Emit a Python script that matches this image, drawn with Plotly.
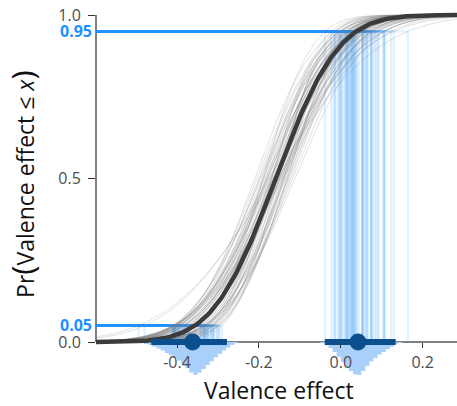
import math
import plotly.graph_objects as go

# ---------------- data ----------------
# location / scale of each posterior draw of the CDF (thin grey curves)
draw_mu = [-0.158, -0.172, -0.130, -0.188, -0.152, -0.140, -0.165, -0.200, -0.145, -0.160,
           -0.180, -0.122, -0.168, -0.150, -0.192, -0.138, -0.175, -0.155, -0.112, -0.162,
           -0.182, -0.148, -0.210, -0.132, -0.170, -0.142, -0.190, -0.160, -0.128, -0.178,
           -0.152, -0.165, -0.135, -0.195, -0.145, -0.172, -0.158, -0.118, -0.185, -0.150,
           -0.168, -0.140, -0.205, -0.155, -0.175, -0.125, -0.162, -0.148, -0.182, -0.160,
           -0.132, -0.188, -0.152, -0.170, -0.138, -0.180, -0.155, -0.165, -0.142, -0.198]
draw_sd = [0.106, 0.143, 0.125, 0.112, 0.156, 0.095, 0.132, 0.121, 0.101, 0.150,
           0.128, 0.119, 0.088, 0.139, 0.123, 0.108, 0.185, 0.114, 0.134, 0.099,
           0.130, 0.145, 0.117, 0.103, 0.121, 0.161, 0.092, 0.136, 0.110, 0.125,
           0.084, 0.141, 0.119, 0.132, 0.152, 0.112, 0.097, 0.128, 0.134, 0.106,
           0.147, 0.117, 0.123, 0.090, 0.139, 0.121, 0.108, 0.154, 0.114, 0.130,
           0.101, 0.125, 0.143, 0.095, 0.119, 0.136, 0.110, 0.200, 0.103, 0.128]
# mean CDF (thick curve)
mean_mu = -0.159
mean_sd = 0.120

# probabilities that are highlighted
probs = [0.05, 0.95]
prob_labels = ["<b>0.05</b>", "<b>0.95</b>"]

# histogram of the 5% quantile (bin centres, relative heights)
q05_bins = [-0.485, -0.475, -0.465, -0.455, -0.445, -0.435, -0.425, -0.415, -0.405, -0.395,
            -0.385, -0.375, -0.365, -0.355, -0.345, -0.335, -0.325, -0.315, -0.305, -0.295,
            -0.285, -0.275, -0.265, -0.255]
q05_dens = [0.03, 0.06, 0.09, 0.14, 0.20, 0.26, 0.33, 0.40, 0.48, 0.56,
            0.66, 0.78, 0.92, 1.00, 0.93, 0.82, 0.70, 0.58, 0.46, 0.36,
            0.26, 0.17, 0.09, 0.04]
# histogram of the 95% quantile
q95_bins = [-0.045, -0.035, -0.025, -0.015, -0.005, 0.005, 0.015, 0.025, 0.035, 0.045,
            0.055, 0.065, 0.075, 0.085, 0.095, 0.105, 0.115, 0.125, 0.135, 0.145]
q95_dens = [0.04, 0.10, 0.18, 0.30, 0.45, 0.60, 0.75, 0.88, 0.98, 1.00,
            0.88, 0.72, 0.58, 0.48, 0.38, 0.30, 0.22, 0.14, 0.07, 0.03]
bin_width = 0.01

# point (median) and 95% interval of each quantile
q_points = [-0.362, 0.042]
q_lows = [-0.463, -0.039]
q_highs = [-0.278, 0.134]

x_ticks = [-0.4, -0.2, 0.0, 0.2]
x_tick_labels = ["-0.4", "-0.2", "0.0", "0.2"]
y_ticks = [0.0, 0.5, 1.0]
y_tick_labels = ["0.0", "0.5", "1.0"]

# ---------------- styling / geometry ----------------
X0, X1 = -0.5978, 0.2838
Y0, Y1 = -0.1162, 1.0153
XPOS = (0 - Y0) / (Y1 - Y0)
DENS_SCALE = 0.101
BLUE = "#1E90FF"
BLUE_T = "rgba(30,144,255,0.13)"
LIGHT = "#a8d0fa"
DARK = "#0c4f8e"
FONT = "Open Sans"
TICK_SIZE = 16
Z = {0.05: -1.6448536, 0.95: 1.6448536}


def cdf(x, mu, sd):
    return 0.5 * (1.0 + math.erf((x - mu) / (sd * math.sqrt(2.0))))


def step_outline(centres, dens):
    xs_, ys_ = [centres[0] - bin_width / 2], [0.0]
    for c, d in zip(centres, dens):
        xs_ += [c - bin_width / 2, c + bin_width / 2]
        ys_ += [-d * DENS_SCALE, -d * DENS_SCALE]
    xs_.append(centres[-1] + bin_width / 2)
    ys_.append(0.0)
    return xs_, ys_


N = 181
xs = [X0 + (X1 - X0) * i / (N - 1) for i in range(N)]

fig = go.Figure()

# quantile histograms below the axis
for centres, dens in [(q05_bins, q05_dens), (q95_bins, q95_dens)]:
    hx, hy = step_outline(centres, dens)
    fig.add_trace(go.Scatter(x=hx, y=hy, mode="lines", fill="toself",
                             fillcolor=LIGHT, line=dict(width=0, color=LIGHT),
                             hoverinfo="skip"))

# per-draw guide lines at the highlighted probabilities
for p in probs:
    for mu, sd in zip(draw_mu, draw_sd):
        q = mu + Z[p] * sd
        fig.add_trace(go.Scatter(x=[X0, q, q], y=[p, p, 0], mode="lines",
                                 line=dict(color=BLUE_T, width=2.2),
                                 hoverinfo="skip"))

# grey posterior CDF draws
for mu, sd in zip(draw_mu, draw_sd):
    fig.add_trace(go.Scatter(x=xs, y=[cdf(x, mu, sd) for x in xs], mode="lines",
                             line=dict(color="rgba(120,120,120,0.22)", width=1),
                             hoverinfo="skip"))

# mean CDF
fig.add_trace(go.Scatter(x=xs, y=[cdf(x, mean_mu, mean_sd) for x in xs], mode="lines",
                         line=dict(color="#3b3b3b", width=4.5), hoverinfo="skip"))

# point + interval
for lo, hi in zip(q_lows, q_highs):
    fig.add_trace(go.Scatter(x=[lo, hi], y=[0, 0], mode="lines",
                             line=dict(color=DARK, width=6), hoverinfo="skip"))
fig.add_trace(go.Scatter(x=q_points, y=[0] * len(q_points), mode="markers",
                         marker=dict(color=DARK, size=17), cliponaxis=False,
                         hoverinfo="skip"))

# dummy trace for the second (blue-label) y-axis
fig.add_trace(go.Scatter(x=[None], y=[None], yaxis="y2", hoverinfo="skip"))

fig.update_layout(
    width=457, height=406,
    margin=dict(l=96, r=0, t=10, b=26),
    paper_bgcolor="white", plot_bgcolor="white",
    showlegend=False,
    font=dict(family=FONT, size=TICK_SIZE, color="#4d4d4d"),
    xaxis=dict(range=[X0, X1], anchor="free", position=XPOS,
               showline=False,
               ticks="outside", ticklen=5, tickwidth=1, tickcolor="#333333",
               tickvals=x_ticks, ticktext=x_tick_labels,
               tickfont=dict(family=FONT, size=TICK_SIZE, color="#4d4d4d"),
               ticklabelstandoff=1,
               showgrid=False, zeroline=False, layer="above traces"),
    yaxis=dict(range=[Y0, Y1], showline=False,
               ticks="outside", ticklen=7, tickwidth=1, tickcolor="#333333",
               tickvals=y_ticks, ticktext=y_tick_labels,
               tickfont=dict(family=FONT, size=TICK_SIZE, color="#4d4d4d"),
               ticklabelstandoff=4,
               showgrid=False, zeroline=False),
    yaxis2=dict(range=[Y0, Y1], overlaying="y", side="left", anchor="x",
                tickvals=probs, ticktext=prob_labels, ticks="",
                tickfont=dict(family=FONT, size=TICK_SIZE, color=BLUE),
                ticklabelstandoff=3,
                showline=False, showgrid=False, zeroline=False),
    shapes=[
        dict(type="line", xref="paper", yref="y", x0=0, x1=0, y0=0, y1=1,
             line=dict(color="black", width=1), layer="below"),
        dict(type="line", xref="paper", yref="y", x0=0, x1=1, y0=0, y1=0,
             line=dict(color="black", width=1), layer="below"),
    ],
    annotations=[
        dict(text="Valence effect", xref="paper", yref="paper", x=0.507, y=-0.027,
             xanchor="center", yanchor="middle", showarrow=False,
             font=dict(family=FONT, size=23, color="#111111")),
        dict(text="Pr<span style='font-size:31px'>(</span>Valence effect \u2264 <i>x</i>"
                  "<span style='font-size:31px'>)</span>",
             xref="paper", yref="paper", x=-0.205, y=0.53, textangle=-90,
             xanchor="center", yanchor="middle", showarrow=False,
             font=dict(family=FONT, size=23, color="#111111")),
    ],
)

fig.write_html("out.html", config={"displayModeBar": False},
               post_script="document.body.style.margin='0';")
